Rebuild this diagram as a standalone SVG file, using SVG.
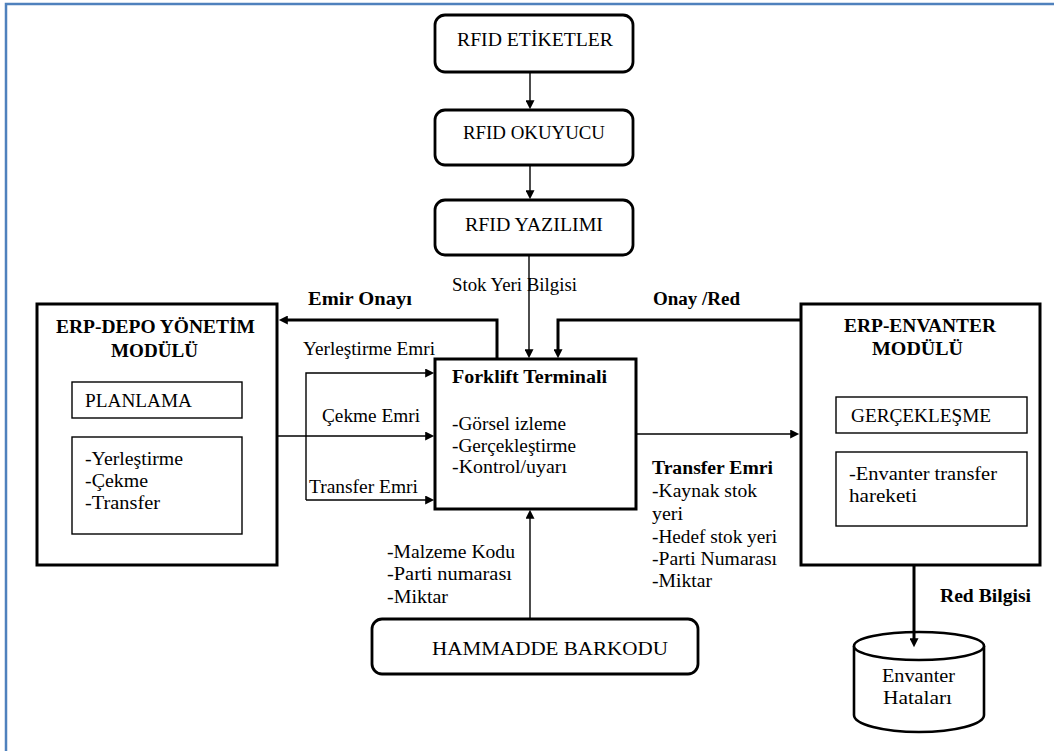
<svg xmlns="http://www.w3.org/2000/svg" width="1054" height="751" viewBox="0 0 1054 751">
<defs>
<style>
text{font-family:'Liberation Serif','DejaVu Serif','Times New Roman',serif;font-size:18px;fill:#000}
.b{font-weight:bold}
.big{font-size:19px}
.thick{fill:#fff;stroke:#000;stroke-width:3}
.rnd{fill:#fff;stroke:#000;stroke-width:2.8}
.thin{fill:#fff;stroke:#000;stroke-width:1.4}
.c1{fill:none;stroke:#000;stroke-width:1.4;marker-end:url(#arr)}
.c3{fill:none;stroke:#000;stroke-width:3;marker-end:url(#arr)}
</style>
<marker id="arr" viewBox="0 0 10 10" refX="2" refY="5" markerWidth="10" markerHeight="9" markerUnits="userSpaceOnUse" orient="auto">
<path d="M0,0 L10,5 L0,10 z" fill="#000"/>
</marker>
</defs>
<rect x="0" y="0" width="1054" height="751" fill="#fff"/>
<path d="M6,751 V4 H1054" fill="none" stroke="#4F81BD" stroke-width="2.5"/>

<g font-family="Liberation Serif, DejaVu Serif, serif">
<g id="rfid-etiketler">
<rect class="rnd" x="435" y="15" width="198" height="57" rx="10"/>
<text x="457" y="46" textLength="156" lengthAdjust="spacingAndGlyphs">RFID ETİKETLER</text>
</g>
<g id="rfid-okuyucu">
<rect class="rnd" x="435" y="110" width="198" height="55" rx="10"/>
<text x="463" y="139" textLength="142" lengthAdjust="spacingAndGlyphs">RFID OKUYUCU</text>
</g>
<g id="rfid-yazilimi">
<rect class="rnd" x="435" y="200" width="198" height="55" rx="10"/>
<text x="465" y="231" textLength="138" lengthAdjust="spacingAndGlyphs">RFID YAZILIMI</text>
</g>

<g id="labels">
<text x="452" y="291" textLength="125" lengthAdjust="spacingAndGlyphs">Stok Yeri Bilgisi</text>
<text class="b" x="308" y="305" textLength="104" lengthAdjust="spacingAndGlyphs">Emir Onayı</text>
<text class="b" x="653" y="305" textLength="87" lengthAdjust="spacingAndGlyphs">Onay /Red</text>
<text x="303" y="355" textLength="132" lengthAdjust="spacingAndGlyphs">Yerleştirme Emri</text>
<text x="322" y="422" textLength="98" lengthAdjust="spacingAndGlyphs">Çekme Emri</text>
<text x="309" y="493" textLength="109" lengthAdjust="spacingAndGlyphs">Transfer Emri</text>
<text class="b" x="652" y="474" textLength="121" lengthAdjust="spacingAndGlyphs">Transfer Emri</text>
<text x="652" y="497" textLength="105" lengthAdjust="spacingAndGlyphs">-Kaynak stok</text>
<text x="652" y="520" textLength="31" lengthAdjust="spacingAndGlyphs">yeri</text>
<text x="652" y="543" textLength="125" lengthAdjust="spacingAndGlyphs">-Hedef stok yeri</text>
<text x="652" y="565" textLength="125" lengthAdjust="spacingAndGlyphs">-Parti Numarası</text>
<text x="652" y="587" textLength="60" lengthAdjust="spacingAndGlyphs">-Miktar</text>
<text x="387" y="558" textLength="128" lengthAdjust="spacingAndGlyphs">-Malzeme Kodu</text>
<text x="387" y="580" textLength="125" lengthAdjust="spacingAndGlyphs">-Parti numarası</text>
<text x="387" y="603" textLength="61" lengthAdjust="spacingAndGlyphs">-Miktar</text>
<text class="b" x="940" y="602" textLength="91" lengthAdjust="spacingAndGlyphs">Red Bilgisi</text>
</g>

<g id="erp-depo">
<rect class="thick" x="37" y="304" width="240" height="261"/>
<text class="b" x="56" y="333" textLength="199" lengthAdjust="spacingAndGlyphs">ERP-DEPO YÖNETİM</text>
<text class="b" x="111" y="357" textLength="87" lengthAdjust="spacingAndGlyphs">MODÜLÜ</text>
<rect class="thin" x="72" y="382" width="170" height="36"/>
<text x="85" y="407" textLength="107" lengthAdjust="spacingAndGlyphs">PLANLAMA</text>
<rect class="thin" x="72" y="437" width="170" height="97"/>
<text x="85" y="465" textLength="98" lengthAdjust="spacingAndGlyphs">-Yerleştirme</text>
<text x="85" y="487" textLength="63" lengthAdjust="spacingAndGlyphs">-Çekme</text>
<text x="85" y="509" textLength="75" lengthAdjust="spacingAndGlyphs">-Transfer</text>
</g>

<g id="forklift-terminali">
<rect class="thick" x="435" y="359" width="201" height="150"/>
<text class="b" x="452" y="383" textLength="155" lengthAdjust="spacingAndGlyphs">Forklift Terminali</text>
<text x="452" y="430" textLength="114" lengthAdjust="spacingAndGlyphs">-Görsel izleme</text>
<text x="452" y="452" textLength="124" lengthAdjust="spacingAndGlyphs">-Gerçekleştirme</text>
<text x="452" y="473" textLength="115" lengthAdjust="spacingAndGlyphs">-Kontrol/uyarı</text>
</g>

<g id="erp-envanter">
<rect class="thick" x="801" y="304" width="239" height="261"/>
<text class="b" x="844" y="332" textLength="152" lengthAdjust="spacingAndGlyphs">ERP-ENVANTER</text>
<text class="b" x="872" y="355" textLength="91" lengthAdjust="spacingAndGlyphs">MODÜLÜ</text>
<rect class="thin" x="836" y="397" width="191" height="36"/>
<text x="851" y="422" textLength="140" lengthAdjust="spacingAndGlyphs">GERÇEKLEŞME</text>
<rect class="thin" x="836" y="452" width="191" height="74"/>
<text x="849" y="480" textLength="148" lengthAdjust="spacingAndGlyphs">-Envanter transfer</text>
<text x="849" y="502" textLength="68" lengthAdjust="spacingAndGlyphs">hareketi</text>
</g>

<g id="hammadde-barkodu">
<rect class="rnd" x="372" y="619" width="326" height="55" rx="10"/>
<text class="big" x="432" y="655" textLength="236" lengthAdjust="spacingAndGlyphs">HAMMADDE BARKODU</text>
</g>

<g id="envanter-hatalari">
<path d="M854,646 V715 A65,17 0 0 0 984,715 V646" fill="#fff" stroke="#000" stroke-width="2.6"/>
<ellipse cx="919" cy="646" rx="65" ry="14" fill="#fff" stroke="#000" stroke-width="2.6"/>
<text x="882" y="682" textLength="73" lengthAdjust="spacingAndGlyphs">Envanter</text>
<text x="883" y="704" textLength="69" lengthAdjust="spacingAndGlyphs">Hataları</text>
</g>
</g>

<g id="connectors">
<path class="c1" d="M530,72 V102"/>
<path class="c1" d="M530,165 V192"/>
<path class="c1" d="M529,255 V351"/>
<path class="c3" d="M800,320 H558 V351"/>
<path class="c3" d="M497,359 V320 H286"/>
<path class="c1" d="M306,500 V373 H427"/>
<path class="c1" d="M306,500 H427"/>
<path class="c1" d="M277,436 H427"/>
<path class="c1" d="M636,434 H792"/>
<path class="c3" d="M914,565 V640"/>
<path class="c1" d="M530,619 V517"/>
</g>
</svg>
